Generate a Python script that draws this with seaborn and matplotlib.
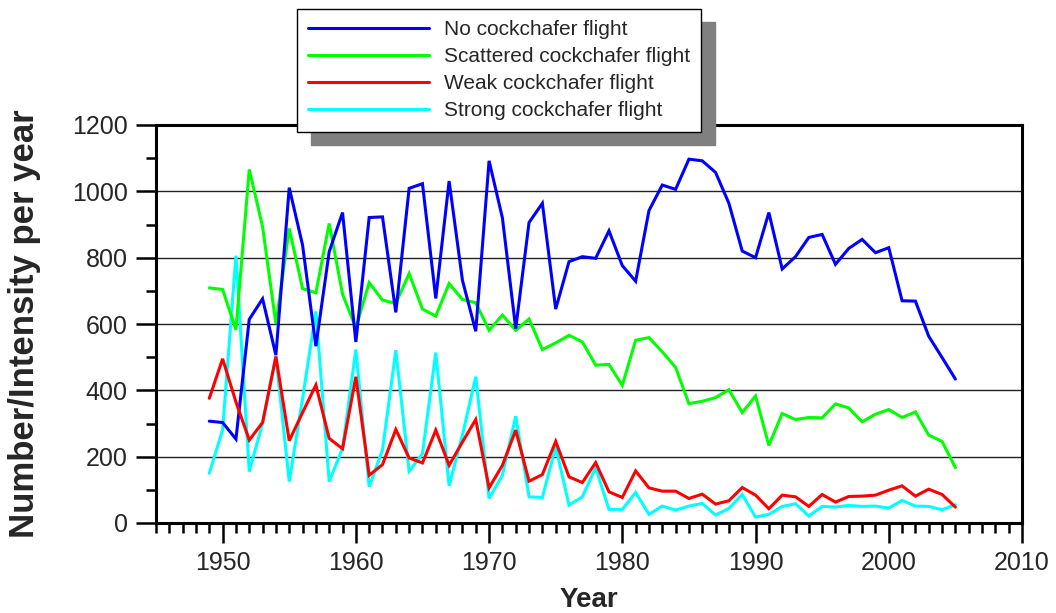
import numpy as np
import pandas as pd
import matplotlib
matplotlib.use("Agg")
import matplotlib.pyplot as plt
from matplotlib.lines import Line2D
from matplotlib.ticker import MultipleLocator
import seaborn as sns

years = list(range(1949, 2006))

no_flight = [307, 303, 253, 614, 676, 506, 1011, 838, 533, 818,
             936, 546, 921, 923, 635, 1009, 1023, 677, 1031, 732,
             578, 1092, 920, 586, 906, 964, 645, 788, 803, 798,
             881, 776, 729, 942, 1019, 1006, 1097, 1092, 1057, 964,
             820, 800, 936, 766, 803, 861, 870, 780, 828, 855,
             815, 830, 670, 669, 563, 499, 434]

scattered_flight = [709, 704, 583, 1066, 893, 600, 888, 707, 694, 903,
                    690, 588, 725, 672, 662, 752, 645, 624, 722, 674,
                    664, 581, 627, 581, 615, 523, 543, 566, 546, 476,
                    478, 415, 551, 559, 516, 469, 360, 367, 378, 402,
                    333, 383, 234, 330, 312, 318, 317, 359, 347, 305,
                    328, 342, 318, 335, 265, 246, 167]

weak_flight = [376, 495, 365, 250, 303, 502, 248, 333, 416, 255,
               224, 441, 144, 176, 282, 196, 181, 280, 174, 244,
               312, 106, 174, 280, 126, 146, 246, 139, 122, 182,
               94, 77, 157, 106, 96, 96, 74, 87, 57, 67,
               107, 84, 43, 84, 79, 50, 86, 63, 80, 81,
               84, 99, 112, 81, 102, 86, 48]

strong_flight = [150, 281, 806, 155, 301, 502, 125, 375, 638, 125,
                 225, 523, 109, 220, 521, 156, 209, 514, 112, 265,
                 441, 74, 144, 322, 79, 77, 230, 54, 79, 167,
                 41, 41, 92, 26, 51, 39, 51, 59, 24, 44,
                 86, 18, 26, 50, 58, 21, 50, 48, 53, 50,
                 51, 45, 68, 51, 50, 40, 55]

series_names = ["No cockchafer flight", "Scattered cockchafer flight",
                "Weak cockchafer flight", "Strong cockchafer flight"]
series_colors = ["#0000FF", "#00FF00", "#FF0000", "#00FFFF"]

df = pd.concat([
    pd.DataFrame({"Year": years, "Value": vals, "Series": name})
    for name, vals in zip(series_names,
                          [no_flight, scattered_flight, weak_flight, strong_flight])
], ignore_index=True)

sns.set_style("ticks")
plt.rcParams["font.family"] = ["Liberation Sans", "DejaVu Sans"]

fig = plt.figure(figsize=(10.56, 6.13), dpi=100)
ax = fig.add_axes([156/1056, 90/613, 866/1056, 398/613])

sns.lineplot(data=df, x="Year", y="Value", hue="Series",
             hue_order=series_names, palette=series_colors,
             linewidth=2.2, legend=False, ax=ax)

# drawing order: cyan lowest, red on top
zorders = [2.2, 2.1, 2.4, 2.0]
for line, z in zip(ax.lines, zorders):
    line.set_zorder(z)
    line.set_solid_joinstyle("miter")

ax.set_xlim(1945, 2010)
ax.set_ylim(0, 1200)
ax.xaxis.set_major_locator(MultipleLocator(10))
ax.xaxis.set_minor_locator(MultipleLocator(1))
ax.yaxis.set_major_locator(MultipleLocator(200))
ax.yaxis.set_minor_locator(MultipleLocator(100))

for y in [200, 400, 600, 800, 1000]:
    ax.axhline(y, color="#222222", linewidth=1.0, zorder=1)

for s in ax.spines.values():
    s.set_linewidth(2.2)
    s.set_color("black")
    s.set_visible(True)

ax.tick_params(axis="both", which="major", direction="out", length=14.5,
               width=1.8, color="black", labelsize=18, pad=6)
ax.tick_params(axis="both", which="minor", direction="out", length=7.2,
               width=1.8, color="black")
ax.tick_params(top=False, right=False, which="both")

ax.set_xlabel("Year", fontsize=20, fontweight="bold")
ax.set_ylabel("Number/Intensity per year", fontsize=25, fontweight="bold")
ax.xaxis.set_label_coords(0.5, -0.16)
ax.yaxis.set_label_coords(-0.133, 0.5)

handles = [Line2D([0], [0], color=c, linewidth=2.2) for c in series_colors]
leg = ax.legend(handles, series_names, loc="upper left",
                bbox_to_anchor=(297/1056, 1 - 9/613),
                bbox_transform=fig.transFigure,
                fontsize=15, frameon=True, fancybox=False,
                framealpha=1, edgecolor="black",
                handlelength=5.8, handletextpad=0.7,
                labelspacing=0.38, borderpad=0.55, borderaxespad=0,
                shadow={"ox": 10, "oy": -9.5, "facecolor": "#808080",
                        "edgecolor": "#808080", "alpha": 1})
leg.get_frame().set_linewidth(1.0)
leg.set_zorder(10)

fig.savefig("out.png", dpi=100, facecolor="white")
